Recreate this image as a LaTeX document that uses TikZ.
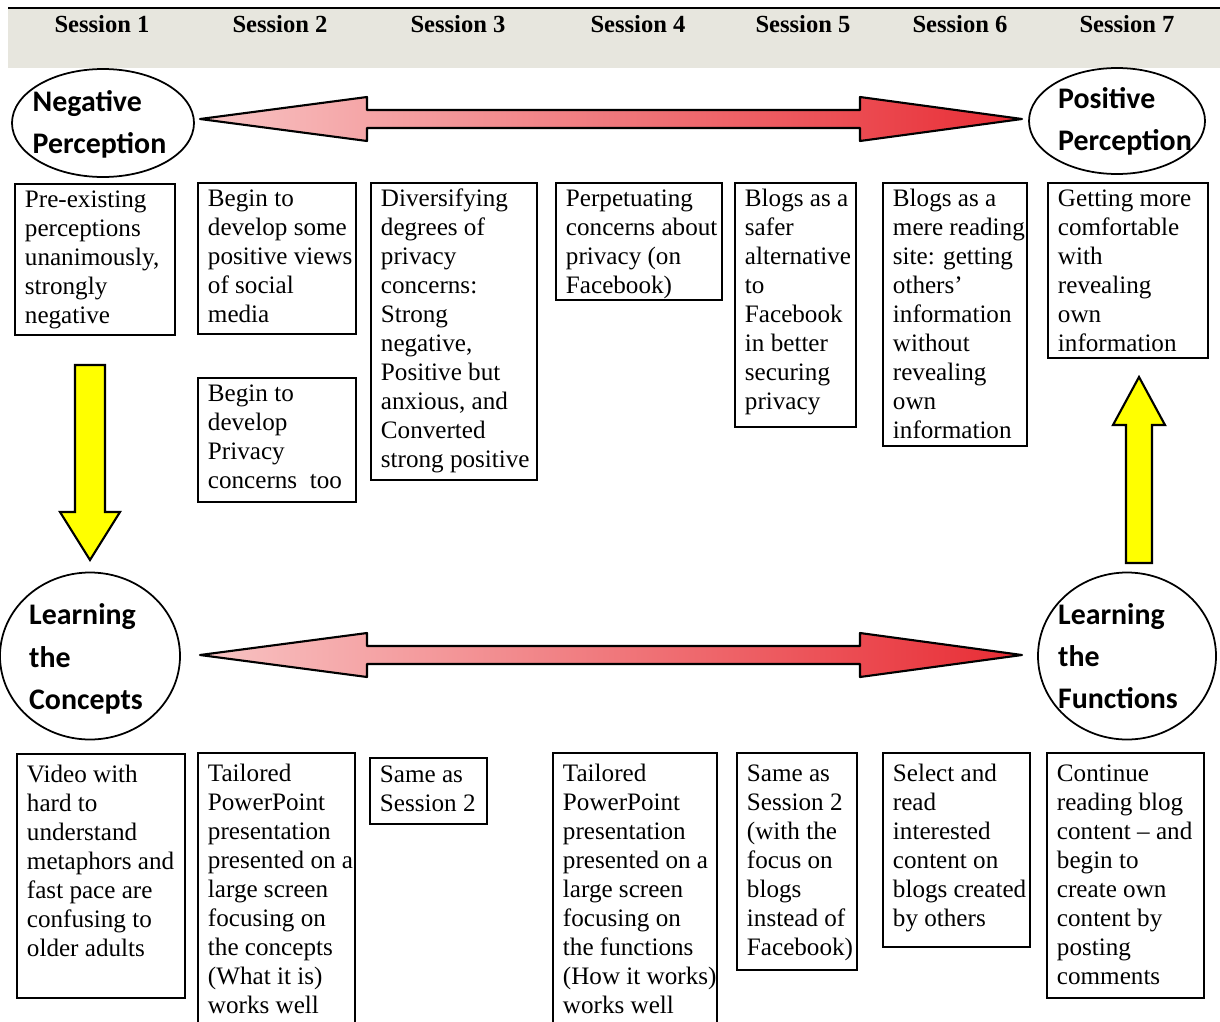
\documentclass[tikz,border=0pt]{standalone}
\usepackage{fontspec}
\setmainfont{Liberation Serif}
\newfontfamily\calib{Carlito}
\usetikzlibrary{shapes.geometric,calc}

\definecolor{bandgray}{RGB}{231,230,222}
\definecolor{arrowpink}{RGB}{248,196,196}
\definecolor{arrowred}{RGB}{232,44,52}
\definecolor{arrowyellow}{RGB}{255,255,0}

\newlength\unitpx
\setlength\unitpx{0.02cm}
\newcommand{\cellfont}{\fontsize{14.3}{16.5}\selectfont}
% #1 gap above first line, #2 box width, #3 box height (all in px)
\newcommand{\celltext}[4][3]{\parbox[t][#3\unitpx][t]{\dimexpr#2\unitpx-20\unitpx\relax}{%
  \vspace*{#1\unitpx}\noindent\begin{tabular}[t]{@{}l@{}}#4\end{tabular}}}

\tikzset{
  cell/.style={draw, line width=1.1pt, anchor=north west, inner xsep=0.2cm, inner ysep=0pt, font=\cellfont},
  bubble/.style={draw, ellipse, line width=1pt, inner sep=0pt},
  bubbletext/.style={align=left, inner sep=0pt, font=\calib\bfseries\fontsize{17}{24}\selectfont},
  sessionlbl/.style={anchor=base, inner sep=0pt, font=\bfseries\fontsize{14}{16}\selectfont},
  redshaft/.style={draw, line width=1.2pt, line join=round, left color=arrowpink, right color=arrowred},
  yellowshaft/.style={draw, line width=1.2pt, fill=arrowyellow}
}

\begin{document}
\begin{tikzpicture}[x=0.02cm, y=-0.02cm]
  \useasboundingbox (0,0) rectangle (1220,1021);
  \clip (0,0) rectangle (1220,1021);

  % header band
  \fill[bandgray] (8,8) rectangle (1220,68);
  \draw[line width=1.2pt] (8,8) -- (1220,8);
  \foreach \x [count=\i] in {102,280,458,638,803,960,1127}
    \node[sessionlbl] (s\i) at (\x,32) {Session \i};

  % perceptions and learning stages
  \node[bubble, minimum width=182*0.02cm, minimum height=108*0.02cm] (negp) at (103,123) {};
  \node[bubbletext, xshift=-0.07cm, yshift=-0.03cm] (negpt) at (negp) {Negative\\Perception};
  \node[bubble, minimum width=176*0.02cm, minimum height=106*0.02cm] (posp) at (1117,121) {};
  \node[bubbletext, xshift=0.16cm] (pospt) at (posp) {Positive\\Perception};
  \node[bubble, minimum width=180*0.02cm, minimum height=167*0.02cm] (lconc) at (90,656) {};
  \node[bubbletext, xshift=-0.08cm, yshift=-0.06cm] (lconct) at (lconc) {Learning\\the\\Concepts};
  \node[bubble, minimum width=178*0.02cm, minimum height=167*0.02cm] (lfunc) at (1127,656) {};
  \node[bubbletext, xshift=-0.18cm] (lfunct) at (lfunc) {Learning\\the\\Functions};

  % red double arrows
  \coordinate (ptl) at (200,119);
  \coordinate (ptr) at (1022,119);
  \coordinate (ltl) at (200,655);
  \coordinate (ltr) at (1022,655);
  \foreach \a/\b in {ptl/ptr, ltl/ltr}
    \path[redshaft] (\a) -- ++(167,-22) -- ++(0,13) -- ($(\b)+(-162,-9)$) -- ++(0,-13)
      -- (\b) -- ++(-162,22) -- ++(0,-13) -- ($(\a)+(167,9)$) -- ++(0,13) -- cycle;

  % top row
  \node[cell] (a1) at (14,183) {\celltext{160}{151}{Pre-existing\\perceptions\\unanimously,\\strongly\\negative}};
  \node[cell] (a2) at (197,182) {\celltext{158}{151}{Begin to\\develop some\\positive views\\of social\\media}};
  \node[cell] (a2b) at (197,377) {\celltext{158}{124}{Begin to\\develop\\Privacy\\concerns\ \ too}};
  \node[cell] (a3) at (370,182) {\celltext{166}{297}{Diversifying\\degrees of\\privacy\\concerns:\\Strong\\negative,\\Positive but\\anxious, and\\Converted\\strong positive}};
  \node[cell] (a4) at (555,182) {\celltext{166}{117}{Perpetuating\\concerns about\\privacy (on\\Facebook)}};
  \node[cell] (a5) at (734,182) {\celltext{121}{244}{Blogs as a\\safer\\alternative\\to\\Facebook\\in better\\securing\\privacy}};
  \node[cell] (a6) at (882,182) {\celltext{144}{263}{Blogs as a\\mere reading\\site: getting\\others'\\information\\without\\revealing\\own\\information}};
  \node[cell] (a7) at (1047,182) {\celltext{160}{175}{Getting more\\comfortable\\with\\revealing\\own\\information}};

  % yellow arrows
  \coordinate (dtop) at (90,365);
  \coordinate (dtip) at (90,560);
  \path[yellowshaft] ($(dtop)+(-15,0)$) -- ($(dtip)+(-15,-48)$) -- ++(-15,0) -- (dtip)
    -- ($(dtip)+(30,-48)$) -- ++(-15,0) -- ($(dtop)+(15,0)$) -- cycle;
  \coordinate (ubot) at (1139,563);
  \coordinate (utip) at (1139,377);
  \path[yellowshaft] ($(ubot)+(-13,0)$) -- ($(utip)+(-13,48)$) -- ++(-13,0) -- (utip)
    -- ($(utip)+(26,48)$) -- ++(-13,0) -- ($(ubot)+(13,0)$) -- cycle;

  % bottom row
  \node[cell] (b1) at (16,753) {\celltext[8]{168}{244}{Video with\\hard to\\understand\\metaphors and\\fast pace are\\confusing to\\older adults}};
  \node[cell] (b2) at (197,752) {\celltext[8]{157}{300}{Tailored\\PowerPoint\\presentation\\presented on a\\large screen\\focusing on\\the concepts\\(What it is)\\works well}};
  \node[cell] (b3) at (369,757) {\celltext[4]{117}{66}{Same as\\Session 2}};
  \node[cell] (b4) at (552,752) {\celltext[8]{164}{300}{Tailored\\PowerPoint\\presentation\\presented on a\\large screen\\focusing on\\the functions\\(How it works)\\works well}};
  \node[cell] (b5) at (736,752) {\celltext[8]{120}{217}{Same as\\Session 2\\(with the\\focus on\\blogs\\instead of\\Facebook)}};
  \node[cell] (b6) at (882,752) {\celltext[8]{147}{194}{Select and\\read\\interested\\content on\\blogs created\\by others}};
  \node[cell] (b7) at (1046,752) {\celltext[8]{157}{245}{Continue\\reading blog\\content -- and\\begin to\\create own\\content by\\posting\\comments}};
\end{tikzpicture}
\end{document}
